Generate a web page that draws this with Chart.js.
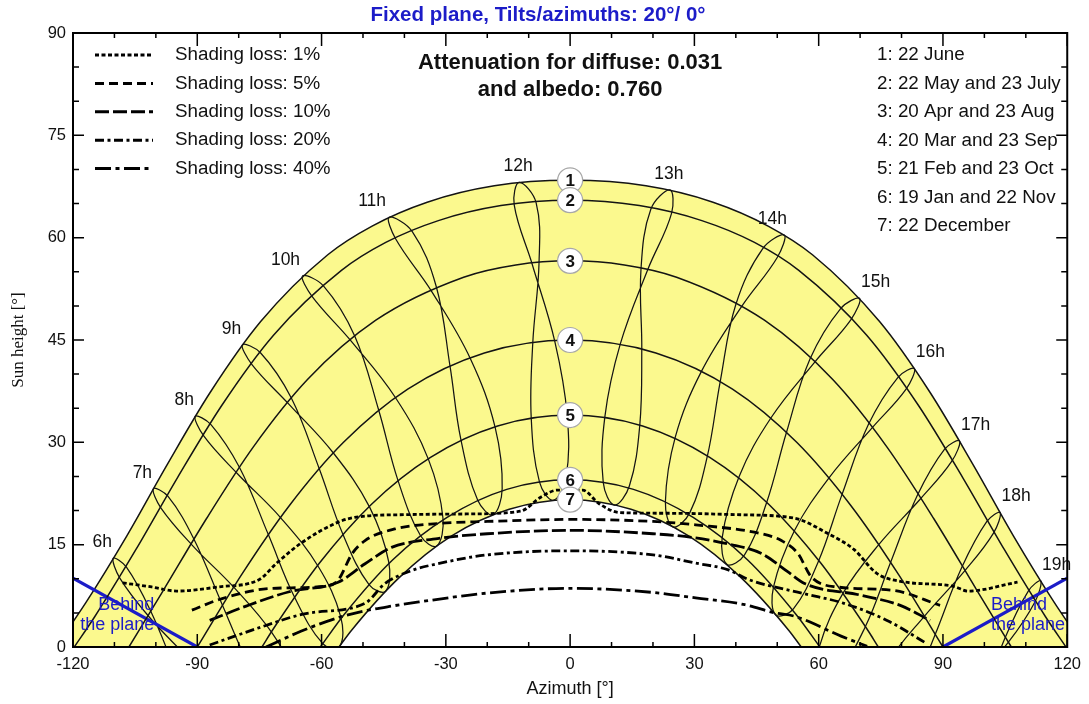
<!DOCTYPE html>
<html>
<head>
<meta charset="utf-8">
<script src="https://cdn.jsdelivr.net/npm/chart.js@4.4.0/dist/chart.umd.min.js"></script>
<style>
html,body{margin:0;padding:0;background:#fff;}
#wrap{width:1089px;height:704px;position:relative;}
</style>
</head>
<body>
<div id="wrap"><canvas id="c" width="1089" height="704"></canvas></div>
<script>
// ---------------- DATA ----------------
const chartTitle = 'Fixed plane, Tilts/azimuths: 20°/ 0°';
const infoLines = ['Attenuation for diffuse: 0.031', 'and albedo: 0.760'];
const xAxisTitle = 'Azimuth [°]';
const yAxisTitle = 'Sun height [°]';
const xTickStep = 30;
const yTickStep = 15;

const dateLegend = ['1: 22 June', '2: 22 May and 23 July', '3: 20 Apr and 23 Aug',
  '4: 20 Mar and 23 Sep', '5: 21 Feb and 23 Oct', '6: 19 Jan and 22 Nov', '7: 22 December'];
const shadingLegend = ['Shading loss: 1%', 'Shading loss: 5%', 'Shading loss: 10%',
  'Shading loss: 20%', 'Shading loss: 40%'];
const behindText = ['Behind', 'the plane'];

// sun paths [azimuth, height]
const path1 = [[-124.2,0],[-116.9,6.5],[-107.0,16.3],[-97.3,26.7],[-86.9,37.3],[-74.7,47.7],[-58.5,57.5],[-47.8,61.7],[-34.5,65.2],[-18.3,67.6],[0,68.4],
  [18.3,67.6],[34.5,65.2],[47.8,61.7],[58.5,57.5],[74.7,47.7],[86.9,37.3],[97.3,26.7],[107.0,16.3],[116.9,6.5],[124.2,0]];
const path2 = [[-119.7,0],[-114.8,4.4],[-104.8,14.3],[-94.8,24.8],[-84.1,35.4],[-71.6,45.7],[-55.2,55.2],[-44.5,59.3],[-31.8,62.5],[-16.7,64.7],[0,65.5],
  [16.7,64.7],[31.8,62.5],[44.5,59.3],[55.2,55.2],[71.6,45.7],[84.1,35.4],[94.8,24.8],[104.8,14.3],[114.8,4.4],[119.7,0]];
const path3 = [[-106.5,0],[-98.3,8.2],[-87.8,18.8],[-76.5,29.3],[-63.4,39.2],[-46.9,47.9],[-25.7,54.2],[-13.1,56.0],[0,56.6],
  [13.1,56.0],[25.7,54.2],[46.9,47.9],[63.4,39.2],[76.5,29.3],[87.8,18.8],[98.3,8.2],[106.5,0]];
const path4 = [[-90,0],[-79.3,10.6],[-67.8,20.7],[-54.7,30.0],[-39.2,37.8],[-20.7,43.1],[0,45.0],
  [20.7,43.1],[39.2,37.8],[54.7,30.0],[67.8,20.7],[79.3,10.6],[90,0]];
const path5 = [[-74.4,0],[-71.7,2.6],[-60.5,12.3],[-48.0,20.9],[-33.7,27.8],[-17.5,32.4],[0,34.0],
  [17.5,32.4],[33.7,27.8],[48.0,20.9],[60.5,12.3],[71.7,2.6],[74.4,0]];
const path6 = [[-60.3,0],[-54.5,4.8],[-42.8,12.8],[-29.7,19.0],[-15.3,23.1],[0,24.5],
  [15.3,23.1],[29.7,19.0],[42.8,12.8],[54.5,4.8],[60.3,0]];
const path7 = [[-55.8,0],[-52.7,2.5],[-41.2,10.2],[-28.6,16.3],[-14.7,20.2],[0,21.6],
  [14.7,20.2],[28.6,16.3],[41.2,10.2],[52.7,2.5],[55.8,0]];

// hour lines (analemmas), points in order Dec, Jan, Feb, Mar, Apr, May, Jun, Jul, Aug, Sep, Oct, Nov
const hourNames = ['6h','7h','8h','9h','10h','11h','12h','13h','14h','15h','16h','17h','18h','19h'];
const hour06 = [[-75.6,-19.2],[-79.9,-19.3],[-87.9,-13.2],[-94.5,-4.5],[-101.2,5.2],[-107.1,11.7],[-110.3,13.0],[-108.7,10.1],[-101.6,4.4],[-91.8,-1.9],[-82.5,-8.2],[-76.1,-14.8]];
const hour07 = [[-65.9,-9.1],[-70.0,-9.1],[-77.4,-2.7],[-83.9,6.1],[-90.8,15.8],[-97.1,22.1],[-100.6,23.2],[-98.8,20.4],[-91.2,14.9],[-81.1,8.7],[-72.0,2.1],[-66.0,-4.8]];
const hour08 = [[-55.6,0.1],[-59.7,0.5],[-66.6,7.4],[-72.8,16.4],[-79.8,26.3],[-86.7,32.6],[-90.5,33.8],[-88.4,30.9],[-80.3,25.4],[-69.8,18.9],[-60.8,11.8],[-55.4,4.5]];
const hour09 = [[-44.5,8.2],[-48.5,9.1],[-54.9,16.6],[-60.6,26.2],[-67.3,36.5],[-74.7,43.1],[-79.1,44.3],[-76.8,41.4],[-67.9,35.6],[-57.1,28.4],[-48.4,20.5],[-43.8,12.5]];
const hour10 = [[-32.2,14.8],[-36.1,16.3],[-41.6,24.5],[-46.2,34.7],[-52.0,45.6],[-59.5,52.9],[-64.6,54.4],[-62.3,51.4],[-52.8,44.8],[-42.1,36.5],[-34.2,27.5],[-30.7,18.9]];
const hour11 = [[-18.6,19.4],[-22.3,21.5],[-26.4,30.5],[-29.0,41.2],[-32.3,52.8],[-38.1,60.9],[-43.7,63.0],[-42.1,59.8],[-33.4,52.1],[-24.1,42.3],[-18.1,32.2],[-16.4,23.2]];
const hour12 = [[-4.1,21.5],[-7.4,24.2],[-9.4,33.7],[-9.0,44.7],[-7.5,56.4],[-8.2,65.1],[-12.3,68.1],[-13.5,64.8],[-9.1,56.0],[-3.7,44.8],[-0.7,33.9],[-1.0,24.8]];
const hour13 = [[10.7,20.8],[8.0,24.1],[8.4,33.8],[12.1,44.4],[18.8,55.4],[24.5,63.6],[24.1,67.0],[19.5,64.2],[17.1,55.3],[17.3,43.6],[16.8,32.4],[14.3,23.6]];
const hour14 = [[24.8,17.6],[23.0,21.3],[25.4,30.8],[31.7,40.4],[41.5,50.0],[50.0,57.1],[51.7,60.4],[46.5,58.4],[40.0,50.2],[36.2,38.8],[33.1,27.9],[28.9,19.7]];
const hour15 = [[37.9,12.1],[36.7,16.0],[40.8,25.0],[48.5,33.6],[59.1,41.8],[67.8,48.0],[69.9,51.1],[65.3,49.6],[57.9,42.2],[52.2,31.4],[47.4,21.1],[42.1,13.5]];
const hour16 = [[49.6,4.7],[49.1,8.8],[54.2,17.1],[62.5,24.8],[73.0,32.2],[81.1,37.8],[83.1,40.8],[79.1,39.5],[72.0,32.6],[65.6,22.3],[59.9,12.5],[53.9,5.6]];
const hour17 = [[60.3,-3.9],[60.2,0.1],[66.0,8.0],[74.5,15.0],[84.7,21.8],[92.1,27.2],[94.0,30.2],[90.4,29.0],[83.8,22.2],[77.3,12.3],[71.2,2.9],[64.7,-3.5]];
const hour18 = [[70.3,-13.6],[70.4,-9.5],[76.8,-2.1],[85.5,4.5],[95.3,11.2],[102.2,16.7],[103.8,19.7],[100.6,18.4],[94.5,11.6],[88.1,1.8],[81.7,-7.4],[74.8,-13.5]];
const hour19 = [[80.0,-23.8],[80.4,-19.7],[87.2,-12.6],[96.1,-6.1],[105.8,0.7],[112.2,6.6],[113.6,9.7],[110.6,8.2],[104.9,1.2],[98.8,-8.8],[92.2,-18.0],[84.8,-23.9]];

// shading loss iso-lines [azimuth, height]
const shade01 = [[-108,9.4],[-101,8.8],[-95,8.2],[-85,8.8],[-75,9.9],[-71,12.2],[-65,15.2],[-56,18.3],[-52,19.0],[-40,19.4],[-25,19.5],[-12,19.9],[-7,22.0],[-3,23.0],[3,23.0],[7,21.0],[12,19.7],[25,19.6],[40,19.4],[54,18.9],[62,16.7],[68.5,14.3],[74,10.8],[80,9.6],[92.5,8.9],[96,8.2],[108,9.5]];
const shade05 = [[-91.3,5.4],[-84,7.1],[-72,8.6],[-59,8.9],[-56,9.8],[-52.6,13.7],[-49.5,15.6],[-42.3,17.3],[-32,18.1],[-20,18.4],[0,18.7],[20,18.4],[30.3,17.9],[46.2,16.6],[51,15.6],[55,13.7],[58.2,10.3],[64.5,8.8],[78,8.3],[89.3,6.1]];
const shade10 = [[-87,3.9],[-78.2,6.0],[-67.8,8.1],[-56,9.5],[-49.5,12.2],[-43.1,14.6],[-32,15.9],[-20,16.6],[0,17.1],[20,16.6],[30.3,16.0],[38.2,15.1],[46.2,13.7],[52.6,11.0],[56.6,9.3],[70.1,7.6],[79.7,6.1],[86.9,3.9]];
const shade20 = [[-87,0.3],[-74.2,3.0],[-63.8,4.9],[-49.5,6.4],[-44.7,9.3],[-38.3,11.2],[-32,12.2],[-20,13.5],[0,14.1],[20,13.5],[30.3,12.3],[38.2,11.3],[43,9.9],[56.6,7.8],[66.1,6.4],[76.5,3.9],[86.1,0.5]];
const shade40 = [[-73.4,0.0],[-65,2.3],[-56,4.3],[-49.5,5.3],[-43,6.0],[-36.5,6.6],[-20,7.9],[0,8.6],[20,8.0],[30.3,7.2],[42.2,6.2],[49.4,5.0],[54.2,4.5],[65.4,1.6],[71.7,0.1]];

// "behind the plane" limit
const behindLeft = [[-120,10.1],[-90,0]];
const behindRight = [[90,0],[120,10.1]];

// ---------------- STYLE ----------------
const FONT = "'Liberation Sans', Arial, Helvetica, sans-serif";
const SERIF = "'Liberation Serif', 'DejaVu Serif', 'Times New Roman', serif";
const INK = '#141414';
const YELLOW = '#fbf98e';
const BLUE = '#1c1cc8';
const shadeDash = [[4,2.5],[9,5],[14,4],[9,3.5,3,3.5],[16,4.5,4,4.5]];

// ---------------- BUILD ----------------
const sunPaths = [path1,path2,path3,path4,path5,path6,path7];
const hourLoops = [hour06,hour07,hour08,hour09,hour10,hour11,hour12,hour13,hour14,hour15,hour16,hour17,hour18,hour19];
const shadeLines = [shade01,shade05,shade10,shade20,shade40];
const toXY = arr => arr.map(p => ({x:p[0], y:p[1]}));
const wrapLoop = arr => [arr[arr.length-1], ...arr, arr[0], arr[1]];

const datasets = [];
sunPaths.forEach((p, i) => {
  const ds = {data: toXY(p), borderColor: INK, borderWidth: 1.5, pointRadius: 0,
    cubicInterpolationMode: 'monotone', fill: false, order: 1};
  if (i === 0) { ds.fill = 'origin'; ds.backgroundColor = YELLOW; ds.order = 10; }
  if (i === 6) { ds.fill = 'origin'; ds.backgroundColor = '#ffffff'; ds.order = 9; }
  datasets.push(ds);
});
hourLoops.forEach(loop => {
  const d = wrapLoop(loop); const last = d.length - 1;
  datasets.push({data: toXY(d), borderColor: INK, borderWidth: 1.25, tension: 0.38, pointRadius: 0,
    fill: false, order: 2,
    segment: {borderColor: c => (c.p0DataIndex === 0 || c.p1DataIndex === last) ? 'rgba(0,0,0,0)' : INK}});
});
shadeLines.forEach((s, i) => {
  datasets.push({data: toXY(s), borderColor: '#000', borderWidth: 2.8, borderDash: shadeDash[i],
    pointRadius: 0, cubicInterpolationMode: 'monotone', fill: false, order: 1});
});
[behindLeft, behindRight].forEach(b => {
  datasets.push({data: toXY(b), borderColor: BLUE, borderWidth: 3.2, pointRadius: 0, fill: false, order: 1});
});
const markerIndex = datasets.length;
datasets.push({data: sunPaths.map(p => ({x: 0, y: p.find(q => q[0] === 0)[1]})), showLine: false,
  pointRadius: 12.5, pointBackgroundColor: '#ffffff', pointBorderColor: '#a8a8a8', pointBorderWidth: 1.2, order: -1});

const deco = {
  id: 'deco',
  beforeDraw(chart) {
    const c = chart.ctx; c.save(); c.fillStyle = '#fff'; c.fillRect(0, 0, chart.width, chart.height); c.restore();
  },
  afterDatasetsDraw(chart) {
    const c = chart.ctx, a = chart.chartArea, xs = chart.scales.x, ys = chart.scales.y;
    c.save();
    // circled numbers
    const mm = chart.getDatasetMeta(markerIndex);
    c.fillStyle = '#111'; c.font = 'bold 17px ' + FONT; c.textAlign = 'center'; c.textBaseline = 'middle';
    mm.data.forEach((pt, i) => c.fillText(String(i + 1), pt.x, pt.y + 1));
    // hour labels
    c.font = '17.5px ' + FONT;
    hourLoops.forEach((loop, i) => {
      const jun = loop[6]; const n = parseInt(hourNames[i], 10);
      const dx = n <= 9 ? -11 : n <= 11 ? -17 : n <= 13 ? -1 : n === 14 ? -12 : 16;
      c.fillText(hourNames[i], xs.getPixelForValue(jun[0]) + dx, ys.getPixelForValue(jun[1]) - 16);
    });
    // behind the plane
    c.fillStyle = BLUE; c.font = '18px ' + FONT;
    c.textAlign = 'right';
    c.fillText(behindText[0], xs.getPixelForValue(-100.4), ys.getPixelForValue(6.2));
    c.fillText(behindText[1], xs.getPixelForValue(-100.4), ys.getPixelForValue(3.2));
    c.textAlign = 'left';
    c.fillText(behindText[0], xs.getPixelForValue(101.6), ys.getPixelForValue(6.2));
    c.fillText(behindText[1], xs.getPixelForValue(101.6), ys.getPixelForValue(3.2));
    // frame
    c.strokeStyle = '#000'; c.lineWidth = 2;
    c.strokeRect(a.left, a.top, a.right - a.left, a.bottom - a.top);
    // inward ticks
    c.lineWidth = 1.5;
    c.beginPath();
    for (let v = xs.min; v <= xs.max; v += 10) {
      const px = xs.getPixelForValue(v); const L = v % xTickStep === 0 ? 13 : 5;
      c.moveTo(px, a.bottom); c.lineTo(px, a.bottom - L);
      c.moveTo(px, a.top); c.lineTo(px, a.top + L);
    }
    for (let v = ys.min; v <= ys.max; v += 5) {
      const py = ys.getPixelForValue(v); const L = v % yTickStep === 0 ? 11 : 6;
      c.moveTo(a.left, py); c.lineTo(a.left + L, py);
      c.moveTo(a.right, py); c.lineTo(a.right - L, py);
    }
    c.stroke();
    // shading legend (top left)
    c.font = '18.8px ' + FONT; c.fillStyle = '#111'; c.textAlign = 'left'; c.textBaseline = 'middle';
    shadingLegend.forEach((t, i) => {
      const y = 55 + i * 28.4;
      c.save(); c.strokeStyle = '#000'; c.lineWidth = 3; c.setLineDash(shadeDash[i]);
      c.beginPath(); c.moveTo(95, y); c.lineTo(153, y); c.stroke(); c.restore();
      c.fillText(t, 175, y);
    });
    // date legend (top right)
    dateLegend.forEach((t, i) => c.fillText(t, 877, 55 + i * 28.5));
    c.restore();
  },
  afterDraw(chart) {
    const c = chart.ctx; const a = chart.chartArea;
    c.save(); c.textAlign = 'center'; c.textBaseline = 'middle';
    c.fillStyle = BLUE; c.font = 'bold 20.5px ' + FONT;
    c.fillText(chartTitle, 538, 15);
    c.fillStyle = '#111'; c.font = 'bold 22px ' + FONT;
    c.fillText(infoLines[0], (a.left + a.right) / 2, 63);
    c.fillText(infoLines[1], (a.left + a.right) / 2, 90);
    c.restore();
  }
};

Chart.defaults.font.family = FONT;
new Chart(document.getElementById('c'), {
  type: 'line',
  data: {datasets},
  plugins: [deco],
  options: {
    responsive: false, animation: false, devicePixelRatio: 1,
    layout: {padding: {top: 33, right: 16, left: 0, bottom: 0}},
    elements: {line: {capBezierPoints: false}, point: {radius: 0}},
    plugins: {legend: {display: false}, tooltip: {enabled: false}, title: {display: false}},
    scales: {
      x: {type: 'linear', min: -120, max: 120,
        afterFit(s) { s.height = 57; },
        grid: {display: false, drawTicks: false}, border: {display: false},
        ticks: {stepSize: xTickStep, autoSkip: false, maxRotation: 0, padding: 8, color: '#111', font: {size: 16.5, family: FONT}},
        title: {display: true, text: xAxisTitle, color: '#111', font: {size: 18, family: FONT}, padding: {top: 0, bottom: 4}}},
      y: {type: 'linear', min: 0, max: 90,
        afterFit(s) { s.width = 73; },
        grid: {display: false, drawTicks: false}, border: {display: false},
        ticks: {stepSize: yTickStep, padding: 7, color: '#111', font: {size: 16.5, family: FONT}},
        title: {display: true, text: yAxisTitle, color: '#111', font: {size: 17, family: SERIF}, padding: {top: 8, bottom: 0}}}
    }
  }
});
</script>
</body>
</html>
